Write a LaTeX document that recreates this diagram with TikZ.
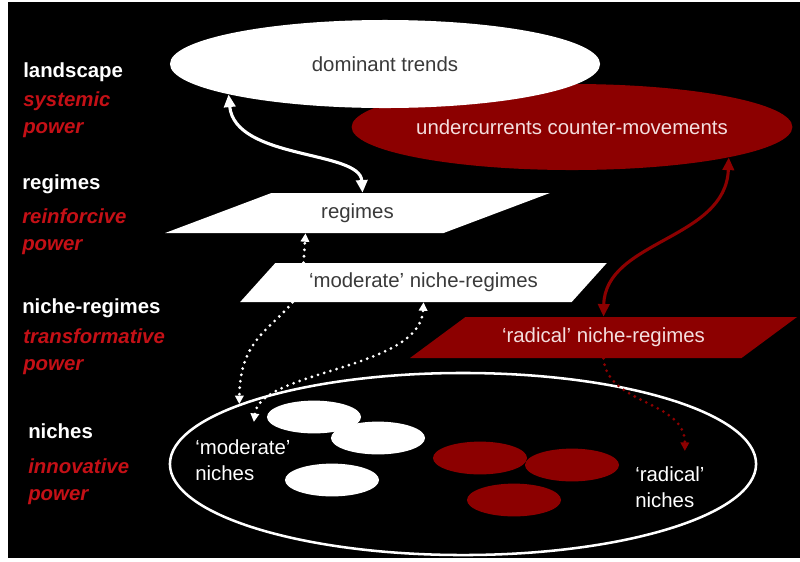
\documentclass[tikz,border=0pt]{standalone}
\usepackage{fontspec}
\setmainfont{Liberation Sans}
\usepackage{xcolor}
\usepackage{tikz}
\usetikzlibrary{shapes.geometric,arrows.meta,calc,positioning}
\definecolor{nichered}{RGB}{140,0,0}
\definecolor{powerred}{RGB}{196,16,22}
\definecolor{textgray}{RGB}{58,58,58}
\definecolor{paletext}{RGB}{244,222,222}
\newcommand\diagfont{\fontsize{14.5pt}{19.2pt}\selectfont}
\newcommand\nichefont{\fontsize{14.5pt}{17.8pt}\selectfont}
\tikzset{
    trend/.style = {ellipse, minimum width=10.75cm, minimum height=2.2cm, inner sep=0pt, fill=white, text=textgray, font=\diagfont},
    counter/.style = {ellipse, minimum width=10.85cm, minimum height=2.15cm, inner sep=0pt, fill=nichered, text=paletext, font=\diagfont},
    regimebox/.style = {trapezium, trapezium stretches=true, inner sep=0pt, fill=white, text=textgray, font=\diagfont},
    radicalbox/.style = {trapezium, trapezium stretches=true, inner sep=0pt, fill=nichered, text=paletext, font=\diagfont},
    nichefield/.style = {ellipse, minimum width=14.65cm, minimum height=4.55cm, draw=white, line width=1.8pt},
    niche/.style = {ellipse, minimum width=2.35cm, minimum height=0.82cm, inner sep=0pt},
    levelname/.style = {anchor=base west, inner sep=0pt, text=white, font=\diagfont\bfseries},
    powername/.style = {anchor=base west, inner sep=0pt, align=left, text=powerred, font=\diagfont\bfseries\itshape},
    nichelabel/.style = {anchor=base west, inner sep=0pt, align=left, text=white, font=\nichefont},
    arrow/.style = {white, line width=2.2pt, {Triangle[length=9pt,width=8pt]}-{Triangle[length=9pt,width=8pt]}},
    redarrow/.style = {nichered, line width=2.2pt, {Triangle[length=9pt,width=8pt]}-{Triangle[length=9pt,width=8pt]}},
    dotarrow/.style = {white, line width=2.2pt, line cap=round, dash pattern=on 0pt off 4.6pt, -{Triangle[length=6pt,width=6pt]}},
    dotdouble/.style = {dotarrow, {Triangle[length=6pt,width=6pt]}-{Triangle[length=6pt,width=6pt]}},
    reddotarrow/.style = {dotarrow, nichered}
}

\begin{document}
\begin{tikzpicture}[x=0.025cm, y=-0.025cm]
\useasboundingbox (0,0) rectangle (800,561);
\fill [white] (0,0) rectangle (800,561);
\fill [black] (8,2) rectangle (800,558);

\node (field) [nichefield] at (463,464) {};
\node (mod1) [niche, fill=white] at (314,417) {};
\node (mod2) [niche, fill=white] at (378,438) {};
\node (mod3) [niche, fill=white] at (332,480) {};
\node (rad1) [niche, fill=nichered] at (480,458) {};
\node (rad2) [niche, fill=nichered] at (572,465) {};
\node (rad3) [niche, fill=nichered] at (514,500) {};
\node (modniche) [nichelabel] at (195,480) {`moderate'\\niches};
\node (radniche) [nichelabel] at (635,507) {`radical'\\niches};

\node (counter) [counter] at (572,127) {undercurrents counter-movements};
\node (dominant) [trend] at (385,64) {dominant trends};
\node (regimes) [regimebox, trapezium left angle=23, trapezium right angle=157, minimum width=9.625cm, minimum height=1cm] at (357.5,213) {regimes};
\node (modreg) [regimebox, trapezium left angle=35, trapezium right angle=145, minimum width=9.175cm, minimum height=0.975cm] at (423.5,282.5) {`moderate' niche-regimes};
\node (radical) [radicalbox, trapezium left angle=25, trapezium right angle=155, minimum width=9.675cm, minimum height=1.025cm] at (603.5,337.5) {`radical' niche-regimes};

\node (landscape) [levelname] at (23,77.5) {landscape};
\node (systemic) [powername] at (23,133.5) {systemic\\power};
\node (regimelevel) [levelname] at (22,189) {regimes};
\node (reinforcive) [powername] at (22,250) {reinforcive\\power};
\node (nichereglevel) [levelname] at (22,313.5) {niche-regimes};
\node (transformative) [powername] at (23,370) {transformative\\power};
\node (nichelevel) [levelname] at (28,438) {niches};
\node (innovative) [powername] at (28,500) {innovative\\power};

\draw [arrow] (dominant.191) .. controls (235,160) and (360,150) .. ($(regimes.north)+(5,0)$);
\draw [redarrow] (radical.north) .. controls (605,240) and (726,240) .. (counter.-11);
\draw [dotarrow] ($(modreg.north)+(-120,0)$) -- ($(regimes.south)+(-52,0)$);
\draw [dotarrow] ($(modreg.south)+(-131,0)$) .. controls (270,330) and (240,340) .. (field.165);
\draw [dotdouble] ($(modniche.north)+(11,-18)$) .. controls (260,370) and (420,370) .. (modreg.south);
\draw [reddotarrow] (radical.south) .. controls (607,405) and (685,400) .. ($(radniche.north)+(15,-16)$);
\end{tikzpicture}
\end{document}
